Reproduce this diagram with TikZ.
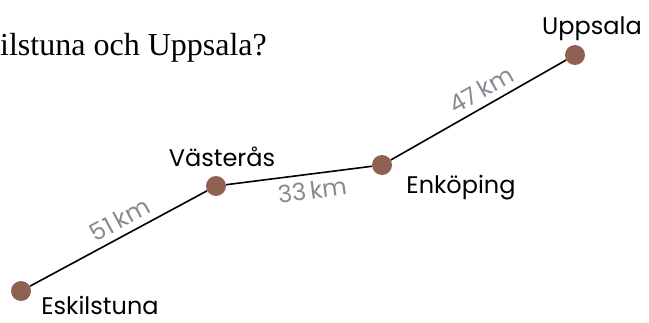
\documentclass[tikz,border=0pt]{standalone}
\usepackage{fontspec}
\setmainfont{Liberation Serif}
\newfontfamily\ortfont{Poppins}
\usetikzlibrary{shapes,arrows,positioning,calc}
\definecolor{ortbrun}{RGB}{143,97,82}
\definecolor{kmgra}{RGB}{135,138,145}

\begin{document}
\begin{tikzpicture}[x=1pt,y=-1pt,
  ort/.style={circle, fill=ortbrun, inner sep=0pt, minimum size=20pt},
  namn/.style={font=\ortfont\fontsize{24}{24}\selectfont, inner sep=0pt, anchor=base},
  avst/.style={font=\ortfont\fontsize{24}{24}\selectfont, text=kmgra, sloped, inner sep=6.5pt},
  vag/.style={line width=1.6pt}]
\useasboundingbox (0,0) rectangle (649,322);
\node[anchor=base west, inner sep=0pt, font=\fontsize{32}{32}\selectfont] (fraga) at (0,55) {ilstuna och Uppsala?};
% orterna
\node[ort] (esk) at (21,291) {};
\node[ort] (vas) at (216,186) {};
\node[ort] (enk) at (382,165) {};
\node[ort] (upp) at (575,55) {};
\node[namn] (eskn) at (100,314) {Eskilstuna};
\node[namn] (vasn) at (222,166) {Västerås};
\node[namn] (enkn) at (461,193) {Enköping};
\node[namn] (uppn) at (592,34) {Uppsala};
% vägarna
\draw[vag] (esk) -- (vas) node[avst, pos=0.55, above] (d1) {51\,km};
\draw[vag] (vas) -- (enk) node[avst, pos=0.58, below] (d2) {33\,km};
\draw[vag] (enk) -- (upp) node[avst, pos=0.56, above] (d3) {47\,km};
\end{tikzpicture}
\end{document}
